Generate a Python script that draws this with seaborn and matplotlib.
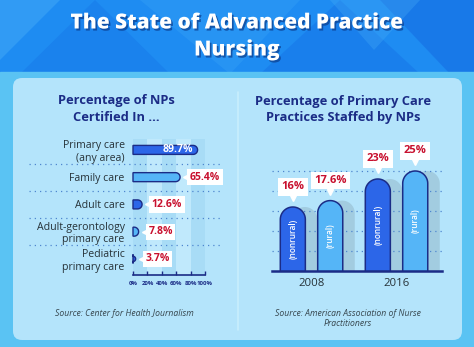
import numpy as np
import pandas as pd
import matplotlib
matplotlib.use("Agg")
import matplotlib.pyplot as plt
import matplotlib.transforms as mtrans
import seaborn as sns
from matplotlib.patches import Polygon, Rectangle, FancyBboxPatch
import matplotlib.patheffects as pe

# ---------------- data ----------------
cert_categories = ["Primary care\n(any area)", "Family care", "Adult care",
                   "Adult-gerontology\nprimary care", "Pediatric\nprimary care"]
cert_values = [89.7, 65.4, 12.6, 7.8, 3.7]
cert_ticks = [0, 20, 40, 60, 80, 100]

staff_years = ["2008", "2008", "2016", "2016"]
staff_types = ["nonrural", "rural", "nonrural", "rural"]
staff_values = [16, 17.6, 23, 25]

# ---------------- style ----------------
sns.set_theme(style="white")
plt.rcParams["font.family"] = ["Open Sans", "DejaVu Sans"]

NAVY = "#1B2C86"
MED = "#2C66E8"
LIGHT = "#55B5F7"
RED = "#C8102E"
PANEL = "#B4E4FB"
FRAME = "#5AC3F3"
TEXT = "#263238"

W, H = 474, 347
fig = plt.figure(figsize=(W / 100, H / 100), dpi=100)

# background canvas in pixel coordinates
bg = fig.add_axes([0, 0, 1, 1])
bg.set_xlim(0, W)
bg.set_ylim(H, 0)
bg.axis("off")
bg.add_patch(Rectangle((0, 0), W, H, color=FRAME, zorder=0))
bg.add_patch(Rectangle((0, 0), W, 74, color="#1E8CF2", zorder=0.1))
for pts, c, a in [
    ([(0, 0), (60, 0), (0, 60)], "#3FA6F7", 0.6),
    ([(20, 74), (95, 0), (170, 74)], "#1676E8", 0.45),
    ([(140, 0), (230, 74), (300, 0)], "#3AA3F6", 0.35),
    ([(260, 74), (340, 0), (420, 74)], "#1570E5", 0.45),
    ([(380, 0), (474, 0), (474, 74), (450, 74)], "#1468E0", 0.5),
    ([(330, 0), (420, 0), (374, 50)], "#4AB0F8", 0.3),
]:
    bg.add_patch(Polygon(pts, closed=True, color=c, alpha=a, lw=0, zorder=0.2))
bg.add_patch(Rectangle((0, 72), W, 4, color=FRAME, zorder=0.3))
bg.add_patch(FancyBboxPatch((13, 78), 449, 262, boxstyle="round,pad=0,rounding_size=9",
                            fc=PANEL, ec="none", zorder=0.4))
bg.plot([238.5, 238.5], [92, 330], color="#C8EEFD", lw=1.2, zorder=0.5)

shadow = [pe.withSimplePatchShadow(offset=(1.2, -1.5), shadow_rgbFace="#0B3C8C", alpha=0.7)]
bg.text(237, 23, "The State of Advanced Practice", ha="center", va="center", color="white",
        fontsize=15, fontweight="heavy", path_effects=shadow, zorder=2)
bg.text(237, 50, "Nursing", ha="center", va="center", color="white",
        fontsize=15, fontweight="heavy", path_effects=shadow, zorder=2)

bg.text(116, 100, "Percentage of NPs", ha="center", va="center", color=NAVY,
        fontsize=9.3, fontweight="bold", zorder=2)
bg.text(116, 117, "Certified In ...", ha="center", va="center", color=NAVY,
        fontsize=9.3, fontweight="bold", zorder=2)
bg.text(343, 101, "Percentage of Primary Care", ha="center", va="center", color=NAVY,
        fontsize=9.3, fontweight="bold", zorder=2)
bg.text(343, 117, "Practices Staffed by NPs", ha="center", va="center", color=NAVY,
        fontsize=9.3, fontweight="bold", zorder=2)

bg.text(124, 313, "Source: Center for Health Journalism", ha="center", va="center",
        color="#37474F", fontsize=6.2, style="italic", zorder=2)
bg.text(348, 313, "Source: American Association of Nurse", ha="center", va="center",
        color="#37474F", fontsize=6.2, style="italic", zorder=2)
bg.text(348, 324, "Practitioners", ha="center", va="center",
        color="#37474F", fontsize=6.2, style="italic", zorder=2)


def fig_rect(x0, y_top, w, h):
    return [x0 / W, (H - y_top - h) / H, w / W, h / H]


# ---------------- left chart ----------------
axL = fig.add_axes(fig_rect(133, 139, 72, 136))
axL.patch.set_alpha(0)
dfL = pd.DataFrame({"category": cert_categories, "value": cert_values})
palL = [MED, LIGHT, MED, LIGHT, MED]
sns.barplot(data=dfL, x="value", y="category", hue="category", palette=palL,
            orient="h", width=0.33, saturation=1, legend=False, ax=axL)
axL.set_xlim(0, 100)
y_lo, y_hi = len(cert_categories) - 0.41, -0.4
axL.set_ylim(y_lo, y_hi)

pxx = 72 / 100.0
pxy = 136 / (y_lo - y_hi)

for k in range(0, 100, 20):
    axL.axvspan(k, k + 20, color="#A8DCF6" if (k // 20) % 2 == 0 else "#C0E9FC",
                lw=0, zorder=0.2)

patchesL = [p for p in axL.patches if abs(p.get_height() - 0.33) < 0.01]
patchesL = sorted(patchesL, key=lambda p: p.get_y())
for p in patchesL:
    x0, y0, w, h = p.get_x(), p.get_y(), p.get_width(), p.get_height()
    fc = p.get_facecolor()
    p.remove()
    ry = h / 2
    rx = min(ry * pxy / pxx, w)
    ryy = rx * pxx / pxy
    yc = y0 + h / 2
    t = np.linspace(-np.pi / 2, np.pi / 2, 30)
    arc = np.column_stack([x0 + w - rx + rx * np.cos(t), yc - ryy * np.sin(t)])
    pts = np.vstack([[x0, y0], [x0 + w - rx, y0], arc[::-1], [x0 + w - rx, y0 + h], [x0, y0 + h]])
    axL.add_patch(Polygon(pts, closed=True, fc=fc, ec=NAVY, lw=1.0, zorder=3, clip_on=False))

for i, v in enumerate(cert_values):
    if i == 0:
        axL.annotate(f"{v}%", xy=(v, i), xytext=(-3, 0), textcoords="offset points",
                     ha="right", va="center", color="white", fontsize=7.5,
                     fontweight="bold", zorder=5)
    else:
        axL.annotate(f"{v}%", xy=(v, i), xytext=(7, 0), textcoords="offset points",
                     ha="left", va="center", color=RED, fontsize=7.5, fontweight="bold",
                     bbox=dict(boxstyle="square,pad=0.25", fc="white", ec="none"),
                     annotation_clip=False, zorder=5)
        axL.plot([v], [i], marker="<", ms=4, color="white", zorder=4, clip_on=False,
                 transform=axL.transData + mtrans.ScaledTranslation(4.6 / 72, 0, fig.dpi_scale_trans))

# dotted separators between rows
blend = mtrans.blended_transform_factory(axL.transAxes, axL.transData)
for yy in np.arange(0.5, len(cert_categories) - 0.5, 1):
    axL.plot([-1.45, 1.22], [yy, yy], transform=blend,
             color="#4E86CF", lw=0.9, ls=(0, (1, 3.2)), clip_on=False, zorder=1)

axL.set_xlabel("")
axL.set_ylabel("")
axL.set_xticks(cert_ticks)
axL.set_xticklabels([f"{t}%" for t in cert_ticks], fontsize=4.3, fontweight="bold", color=NAVY)
axL.tick_params(axis="x", direction="in", length=3, width=1, color=NAVY, pad=4, bottom=True)
axL.tick_params(axis="y", length=0, pad=6, labelsize=7.6, labelcolor=TEXT)
for lab in axL.get_yticklabels():
    lab.set_multialignment("right")
    lab.set_linespacing(1.15)
for s in ["top", "right", "left"]:
    axL.spines[s].set_visible(False)
axL.spines["bottom"].set_color(NAVY)
axL.spines["bottom"].set_linewidth(1.2)
axL.grid(False)

# ---------------- right chart ----------------
axR = fig.add_axes(fig_rect(272, 151, 170, 120))
axR.patch.set_alpha(0)
dfR = pd.DataFrame({"year": staff_years, "type": staff_types, "value": staff_values})
sns.barplot(data=dfR, x="year", y="value", hue="type", palette=[MED, LIGHT],
            width=0.88, gap=0.33, saturation=1, legend=False, ax=axR)
axR.set_xlim(-0.465, 1.535)
axR.set_ylim(0, 30)
rx_px = 170 / 2.0
ry_px = 120 / 30.0

patchesR = [p for p in axR.patches if p.get_height() > 0]
patchesR = sorted(patchesR, key=lambda p: p.get_x())
for j, p in enumerate(patchesR):
    x0, w, h = p.get_x(), p.get_width(), p.get_height()
    fc = p.get_facecolor()
    p.remove()
    rx = w / 2
    ry = rx * rx_px / ry_px
    t = np.linspace(0, np.pi, 40)
    arc = np.column_stack([x0 + rx + rx * np.cos(t), h - ry + ry * np.sin(t)])
    pts = np.vstack([[x0 + w, 0], arc, [x0, 0]])
    off = 12 / rx_px
    axR.add_patch(Polygon(pts + [off, 0], closed=True, fc="#A2CCE0", ec="none", zorder=0.3))
    axR.add_patch(Polygon(pts, closed=True, fc=fc, ec=NAVY, lw=1.1, zorder=3))
    axR.text(x0 + rx, h / 2, f"({staff_types[j]})", rotation=90, ha="center", va="center",
             color="white", fontsize=6, fontweight="semibold", zorder=4)
    axR.annotate(f"{staff_values[j]:g}%", xy=(x0 + rx, h), xytext=(0, 14.5),
                 textcoords="offset points", ha="center", va="center", color=RED,
                 fontsize=8, fontweight="bold", zorder=5, annotation_clip=False,
                 bbox=dict(boxstyle="square,pad=0.3", fc="white", ec="none"))
    axR.plot([x0 + rx], [h], marker="v", ms=4.5, color="white", zorder=5, clip_on=False,
             transform=axR.transData + mtrans.ScaledTranslation(0, 6.2 / 72, fig.dpi_scale_trans))

axR.set_yticks([5, 10, 15, 20, 25])
axR.yaxis.grid(True, color="#4E86CF", lw=0.9, ls=(0, (1, 3.2)))
axR.xaxis.grid(False)
axR.set_axisbelow(True)
axR.tick_params(axis="y", left=False, labelleft=False)
axR.tick_params(axis="x", length=0, pad=5, labelsize=8.2, labelcolor=TEXT)
axR.set_xlabel("")
axR.set_ylabel("")
for s in ["top", "right", "left"]:
    axR.spines[s].set_visible(False)
axR.spines["bottom"].set_color(NAVY)
axR.spines["bottom"].set_linewidth(1.8)

fig.savefig("out.png", dpi=100)
